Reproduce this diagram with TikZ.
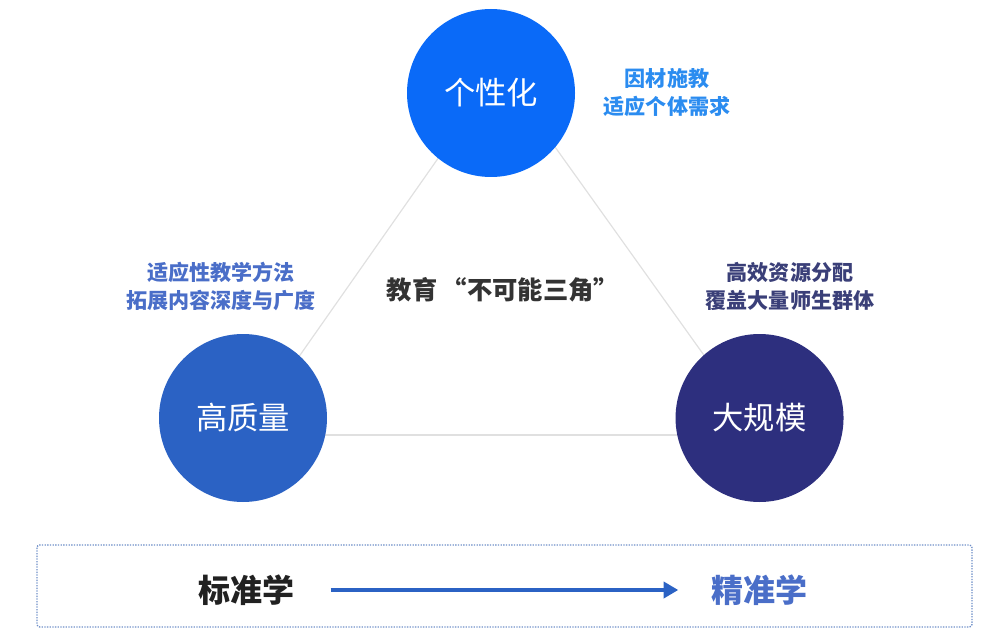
\documentclass[tikz,border=0pt]{standalone}
\usepackage{fontspec}
\setmainfont{Noto Sans CJK SC}
\usetikzlibrary{arrows.meta,positioning}
\definecolor{gxhblue}{HTML}{0A6AF8}
\definecolor{gzlblue}{HTML}{2B62C4}
\definecolor{dgmnavy}{HTML}{2D2F7E}
\definecolor{notetop}{HTML}{2B8CF0}
\definecolor{noteleft}{HTML}{4A6EC8}
\definecolor{noteright}{HTML}{3A3F78}
\definecolor{framecol}{HTML}{6F8FC8}

\begin{document}
\begin{tikzpicture}[
    x=0.75pt, y=-0.75pt,
    goal/.style={circle, minimum size=126pt, inner sep=0pt, text=white, font=\fontsize{23.5}{27}\selectfont},
    note/.style={align=center, font=\bfseries\fontsize{15.8}{21}\selectfont},
    edge/.style={draw=black!12, line width=0.9pt},
    flow/.style={draw=gzlblue, line width=3pt, -{Triangle[length=11pt, width=12pt]}},
    node distance=261pt
    ]
    \useasboundingbox (0,0) rectangle (991,641);
    % triangle behind the circles
    \coordinate (triTop) at (500,70);
    \coordinate (triLeft) at (244,435);
    \coordinate (triRight) at (761,435);
    \draw[edge] (triTop) -- (triLeft);
    \draw[edge] (triTop) -- (triRight);
    \draw[edge] (triLeft) -- (triRight);
    % the three goals
    \node[goal, fill=gxhblue] (gxh) at (491,93) {个性化};
    \node[goal, fill=gzlblue] (gzl) at (243,418) {高质量};
    \node[goal, fill=dgmnavy, right=of gzl] (dgm) {大规模};
    % notes
    \node[note, text=notetop] (gxhNote) at (667,93) {因材施教\\适应个体需求};
    \node[note, text=noteleft] (gzlNote) at (221,286) {适应性教学方法\\拓展内容深度与广度};
    \node[note, text=noteright] (dgmNote) at (790,286) {高效资源分配\\覆盖大量师生群体};
    \node[font=\bfseries\fontsize{19}{22}\selectfont, text=black!80] (title) at (503,290) {教育\,“不可能三角”};
    % bottom band
    \draw[framecol, line width=1pt, dash pattern=on 1pt off 1pt, rounded corners=2pt] (37,545) rectangle (972,627);
    \node[font=\bfseries\fontsize{24}{28}\selectfont, text=black!87] (bzx) at (246,590) {标准学};
    \node[font=\bfseries\fontsize{24}{28}\selectfont, text=noteleft] (jzx) at (759,590) {精准学};
    \draw[flow, shorten <=24pt, shorten >=21pt] (bzx) -- (jzx);
  \end{tikzpicture}
\end{document}
